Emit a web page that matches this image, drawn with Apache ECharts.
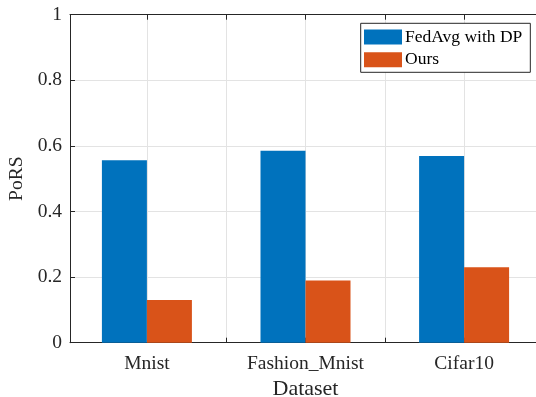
<!DOCTYPE html>
<html>
<head>
<meta charset="utf-8">
<script src="https://cdn.jsdelivr.net/npm/echarts@6/dist/echarts.min.js"></script>
<style>
  html, body { margin: 0; padding: 0; background: #fff; overflow: hidden; }
  #chart { width: 536px; height: 397px; }
</style>
</head>
<body>
<div id="chart"></div>
<script>
// Privacy leakage (PoRS) per dataset
const categories = ['Mnist', 'Fashion_Mnist', 'Cifar10'];
const seriesNames = ['FedAvg with DP', 'Ours'];
const fedAvgDP = [0.556, 0.585, 0.569];
const ours = [0.130, 0.190, 0.230];
const yTicks = [0, 0.2, 0.4, 0.6, 0.8, 1];

const FONT = '"Liberation Serif", serif';
const AXIS = '#262626';
const GRID = '#e3e3e3';

// categories sit at x = 1, 2, 3 on a numeric axis; ticks every half step
const positions = categories.map((_, i) => i + 1);
const tickPositions = [];
for (let p = 1; p <= categories.length; p += 0.5) tickPositions.push(p);

const chart = echarts.init(document.getElementById('chart'), null, { renderer: 'canvas' });

const tickText = { fontFamily: FONT, fontSize: 19.5, color: AXIS };

const xBase = {
  type: 'value',
  min: 0.5151,
  max: 3.4849,
  axisLine: { show: true, onZero: false, lineStyle: { color: AXIS, width: 1 } },
  axisTick: { show: true, inside: true, length: 5, customValues: tickPositions,
              lineStyle: { color: AXIS, width: 1 } },
  splitLine: { show: false }
};

chart.setOption({
  animation: false,
  backgroundColor: '#fff',
  textStyle: { fontFamily: FONT },
  // the plot box runs a few pixels past the right edge of the figure
  grid: { left: 70, right: -5, top: 14.7, bottom: 54.3, containLabel: false, outerBoundsMode: 'none' },
  legend: {
    orient: 'vertical',
    left: 360.7,
    top: 23.3,
    data: seriesNames,
    icon: 'rect',
    itemWidth: 38,
    itemHeight: 15,
    itemGap: 4.7,
    padding: [4.7, 8, 3.6, 3.3],
    borderColor: AXIS,
    borderWidth: 1,
    backgroundColor: '#fff',
    textStyle: { fontFamily: FONT, fontSize: 17.5, color: '#000', lineHeight: 15, padding: [0, 0, 0, -2] }
  },
  xAxis: [
    Object.assign({}, xBase, {
      position: 'bottom',
      name: 'Dataset',
      nameLocation: 'middle',
      nameGap: 29,
      nameTextStyle: { fontFamily: FONT, fontSize: 22, color: AXIS },
      axisLabel: {
        customValues: positions,
        formatter: v => '{t|' + categories[Math.round(v) - 1] + '}',
        margin: 11,
        rich: { t: tickText }
      },
      splitLine: { show: true, lineStyle: { color: GRID, width: 1 } }
    }),
    Object.assign({}, xBase, {
      position: 'top',
      axisLabel: { show: false }
    })
  ],
  yAxis: {
    type: 'value',
    min: 0,
    max: 1,
    interval: 0.2,
    name: 'PoRS',
    nameLocation: 'middle',
    nameGap: 33,
    nameTextStyle: { fontFamily: FONT, fontSize: 19.5, color: AXIS },
    axisLine: { show: true, lineStyle: { color: AXIS, width: 1 } },
    axisTick: { show: true, inside: true, length: 5, lineStyle: { color: AXIS, width: 1 } },
    axisLabel: {
      margin: 8,
      formatter: v => '{t|' + String(yTicks.find(t => Math.abs(t - v) < 1e-6)) + '}',
      rich: { t: tickText }
    },
    splitLine: { show: true, lineStyle: { color: GRID, width: 1 } }
  },
  series: [
    {
      name: seriesNames[0],
      type: 'bar',
      xAxisIndex: 0,
      barWidth: 45,
      barGap: '0%',
      itemStyle: { color: '#0072BD' },
      data: positions.map((p, i) => [p, fedAvgDP[i]])
    },
    {
      name: seriesNames[1],
      type: 'bar',
      xAxisIndex: 0,
      barWidth: 45,
      barGap: '0%',
      itemStyle: { color: '#D95319' },
      data: positions.map((p, i) => [p, ours[i]])
    }
  ]
});
</script>
</body>
</html>
